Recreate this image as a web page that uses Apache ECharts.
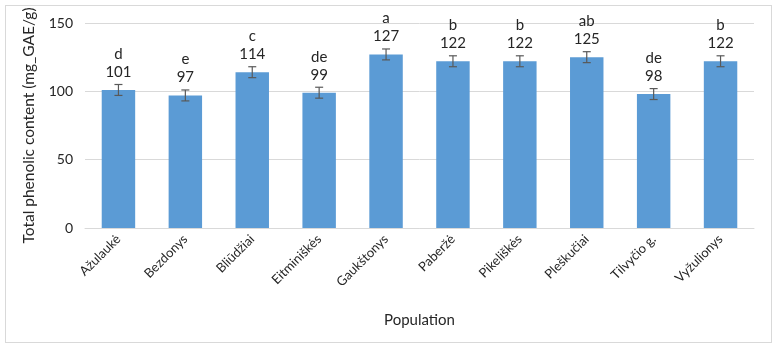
<!DOCTYPE html>
<html>
<head>
<meta charset="utf-8">
<script src="https://cdn.jsdelivr.net/npm/echarts@6/dist/echarts.min.js"></script>
<style>
  html, body { margin: 0; padding: 0; background: #fff; }
  #frame { position: absolute; left: 5px; top: 5px; width: 765px; height: 336px; border: 1px solid #d9d9d9; }
  #chart { width: 777px; height: 348px; }
</style>
</head>
<body>
<div id="frame"></div>
<div id="chart"></div>
<script>
// populations and mean phenolic content
const populations = ['Ažulaukė', 'Bezdonys', 'Bliūdžiai', 'Eitminiškės', 'Gaukštonys',
  'Paberžė', 'Pikeliškės', 'Pleškučiai', 'Tilvyčio g.', 'Vyžulionys'];
const phenolic = [101, 97, 114, 99, 127, 122, 122, 125, 98, 122];
// standard deviation (error bar half-length)
const errors = [4, 4, 4, 4, 4, 4, 4, 4, 4, 4];
// significance letters
const letters = ['d', 'e', 'c', 'de', 'a', 'b', 'b', 'ab', 'de', 'b'];
const yTicks = [0, 50, 100, 150];

const font = 'Lato, "Open Sans", "Noto Sans", sans-serif';
const chart = echarts.init(document.getElementById('chart'));

const option = {
  animation: false,
  textStyle: { fontFamily: font },
  grid: { left: 85, right: 23, top: 23, bottom: 120 },
  xAxis: {
    type: 'category',
    data: populations,
    name: 'Population',
    nameLocation: 'middle',
    nameGap: 85,
    nameTextStyle: { fontSize: 15, color: '#262626', fontFamily: font },
    axisLine: { lineStyle: { color: '#d9d9d9' } },
    axisTick: { show: false },
    axisLabel: { rotate: 45, fontSize: 13, color: '#262626', margin: 9, fontFamily: font }
  },
  yAxis: {
    type: 'value',
    min: yTicks[0],
    max: yTicks[yTicks.length - 1],
    interval: 50,
    name: 'Total phenolic content (mg_GAE/g)',
    nameLocation: 'middle',
    nameGap: 48,
    nameTextStyle: { fontSize: 15.5, color: '#262626', fontFamily: font },
    axisLine: { show: false },
    axisTick: { show: false },
    axisLabel: { fontSize: 14, color: '#262626', margin: 12, fontFamily: font },
    splitLine: { lineStyle: { color: '#d9d9d9' } }
  },
  series: [
    {
      type: 'bar',
      data: phenolic,
      barWidth: '50%',
      itemStyle: { color: '#5b9bd5' },
      label: {
        show: true,
        position: 'top',
        distance: 9,
        color: '#262626',
        fontSize: 15,
        lineHeight: 18,
        fontFamily: font,
        formatter: p => letters[p.dataIndex] + '\n' + p.value
      },
      z: 2
    },
    {
      // error bars
      type: 'custom',
      data: phenolic.map((v, i) => [i, v - errors[i], v + errors[i]]),
      renderItem: function (params, api) {
        const x = api.value(0);
        const lo = api.coord([x, api.value(1)]);
        const hi = api.coord([x, api.value(2)]);
        const cap = 4;
        const style = { stroke: '#595959', lineWidth: 1.2 };
        return {
          type: 'group',
          children: [
            { type: 'line', shape: { x1: hi[0], y1: hi[1], x2: lo[0], y2: lo[1] }, style: style },
            { type: 'line', shape: { x1: hi[0] - cap, y1: hi[1], x2: hi[0] + cap, y2: hi[1] }, style: style },
            { type: 'line', shape: { x1: lo[0] - cap, y1: lo[1], x2: lo[0] + cap, y2: lo[1] }, style: style }
          ]
        };
      },
      z: 3
    }
  ]
};
chart.setOption(option);
</script>
</body>
</html>
